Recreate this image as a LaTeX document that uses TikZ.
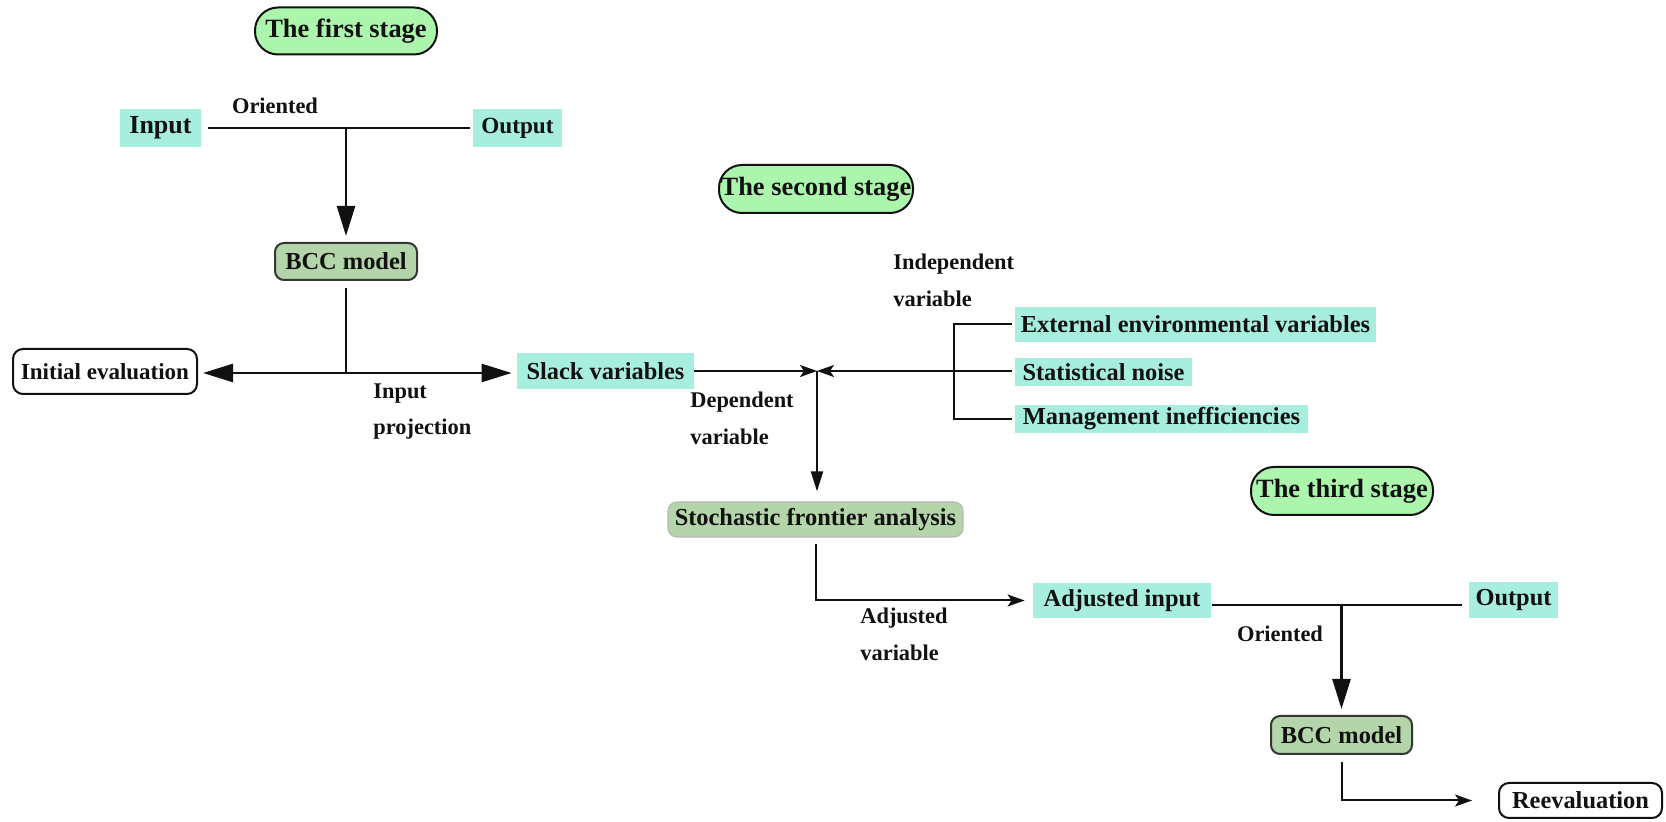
\documentclass[tikz,border=0pt]{standalone}
\usepackage{fontspec}
\setmainfont{Liberation Serif}
\usetikzlibrary{arrows.meta}
\definecolor{cyanfill}{RGB}{168,238,222}
\definecolor{pillfill}{RGB}{172,245,172}
\definecolor{modelfill}{RGB}{180,212,170}
\definecolor{ink}{RGB}{17,17,17}
\newcommand\myfs[1]{\fontsize{#1}{#1}\selectfont\bfseries}
\tikzset{
  every node/.style={inner sep=0pt, text=ink},
  pill/.style={draw=ink, line width=1pt, fill=pillfill, rounded corners=11.5pt, font=\myfs{13.2}},
  cbox/.style={fill=cyanfill, font=\myfs{12.2}},
  model/.style={draw=ink!85, line width=1pt, fill=modelfill, rounded corners=4.5pt, font=\myfs{12.2}},
  evalbox/.style={draw=ink, line width=1pt, fill=white, rounded corners=5pt, font=\myfs{11.5}},
  lbl/.style={font=\fontsize{11.2}{18.4}\selectfont\bfseries, align=left},
  thickln/.style={draw=ink, line width=1.3pt},
  midln/.style={draw=ink, line width=1pt},
  bigtip/.style={-{Triangle[length=15pt,width=9pt]}},
  smalltip/.style={-{Stealth[length=8.5pt,width=6pt,inset=2pt]}},
  downtip/.style={-{Triangle[length=10pt,width=6pt]}}
}
\begin{document}
\begin{tikzpicture}[x=0.5pt,y=-0.5pt]
\useasboundingbox (0,0) rectangle (1666,822);
\fill[white] (0,0) rectangle (1666,822);

% ---- first stage ----
\node[pill, minimum width=91pt, minimum height=23.5pt] (st1) at (346,31) {The first stage};
\node[cbox, minimum width=40.5pt, minimum height=19pt, font=\myfs{13}] (in1) at (160.5,128) {Input};
\node[cbox, minimum width=44.5pt, minimum height=19pt, font=\myfs{11.6}] (out1) at (517.5,128) {Output};
\node[lbl] (ori1) at (275,106) {Oriented};
\node[model, minimum width=71pt, minimum height=18.5pt] (bcc1) at (346,261.5) {BCC model};
\node[evalbox, minimum width=92pt, minimum height=22.5pt] (ini) at (105,371.5) {Initial evaluation};
\node[cbox, minimum width=88.5pt, minimum height=18pt] (slack) at (605.5,371) {Slack variables};
\node[lbl, anchor=west] (inproj) at (373,411.5) {Input\\projection};

\coordinate (j1) at (346,128);
\coordinate (j2) at (346,373);
\draw[thickln, shorten <=3.5pt, shorten >=1.5pt] (in1.east) -- (out1.west);
\draw[thickln, bigtip, shorten >=3pt] (j1) -- (bcc1.north);
\draw[thickln, shorten <=3.5pt] (bcc1.south) -- (j2);
\draw[thickln, bigtip, shorten >=2.5pt] (j2) -- (j2 -| ini.east);
\draw[thickln, bigtip, shorten >=2.5pt] (j2) -- (j2 -| slack.west);

% ---- second stage ----
\node[pill, minimum width=97pt, minimum height=24pt] (st2) at (816,189) {The second stage};
\node[lbl, anchor=west] (indep) at (893,280) {Independent\\variable};
\node[cbox, minimum width=180.5pt, minimum height=17.5pt] (ext) at (1195.5,324.5) {External environmental variables};
\node[cbox, minimum width=88.5pt, minimum height=14pt] (noise) at (1103.5,372) {Statistical noise};
\node[cbox, minimum width=146.5pt, minimum height=14pt] (mgmt) at (1161.5,419) {Management inefficiencies};
\node[lbl, anchor=west] (dep) at (690,418.5) {Dependent\\variable};
\node[model, draw=ink!30, line width=0.6pt, minimum width=147.5pt, minimum height=17.5pt] (sfa) at (815.5,519.5) {Stochastic frontier analysis};
\node[lbl, anchor=west] (adjvar) at (860,634) {Adjusted\\variable};

% ---- third stage nodes ----
\node[pill, minimum width=91pt, minimum height=24pt] (st3) at (1342,491) {The third stage};
\node[cbox, minimum width=89pt, minimum height=17.5pt] (adj) at (1122,600.5) {Adjusted input};
\node[cbox, minimum width=44.5pt, minimum height=18pt] (out3) at (1513.5,600) {Output};
\node[lbl] (ori3) at (1280,634) {Oriented};
\node[model, minimum width=70.5pt, minimum height=19pt] (bcc2) at (1341.5,735) {BCC model};
\node[evalbox, minimum width=81.5pt, minimum height=17.5pt, font=\myfs{12.2}] (reev) at (1580.5,800.5) {Reevaluation};

% ---- second stage connectors ----
\coordinate (j3) at (817,371);
\coordinate (bx) at (954,371);
\draw[midln, smalltip] (slack.east) -- (j3);
\draw[midln, smalltip, shorten <=1.5pt] (j3 -| noise.west) -- (j3);
\draw[midln] ([xshift=-1.5pt]ext.west) -- (ext.west -| bx) -- (mgmt.west -| bx) -- ([xshift=-1.5pt]mgmt.west);
\draw[midln, downtip, shorten >=5pt] (j3) -- (j3 |- sfa.north);
\draw[midln, smalltip, shorten <=3pt, shorten >=4pt] (sfa.south) |- (adj.west);

% ---- third stage connectors ----
\coordinate (j4) at (1341.5,605);
\draw[midln, line width=1.1pt, shorten <=0.5pt, shorten >=3.5pt] (adj.east |- j4) -- (out3.west |- j4);
\draw[thickln, bigtip, shorten >=3pt] (j4) -- (bcc2.north);
\draw[midln, smalltip, shorten <=3.5pt, shorten >=13pt] (bcc2.south) |- (reev.west);
\end{tikzpicture}
\end{document}
